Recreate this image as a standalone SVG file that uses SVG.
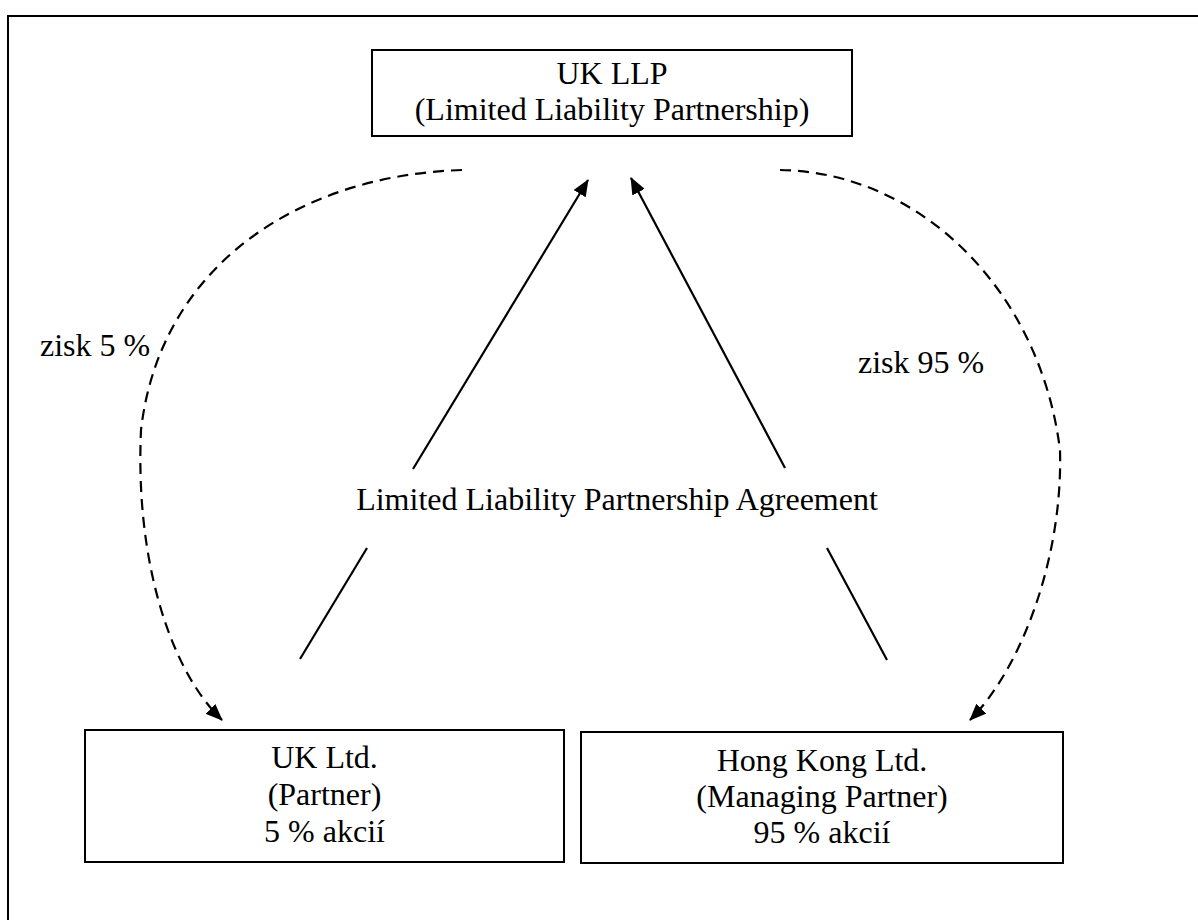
<svg xmlns="http://www.w3.org/2000/svg" width="1198" height="920" viewBox="0 0 1198 920">
  <style>
    .box { fill: #ffffff; stroke: #000000; stroke-width: 2; }
    .t { font-family: "Liberation Serif", "Times New Roman", serif; font-size: 32px; fill: #000000; }
    .c { text-anchor: middle; }
    .solid { fill: none; stroke: #000000; stroke-width: 2.2; }
    .dash { fill: none; stroke: #000000; stroke-width: 2.2; stroke-dasharray: 11 7; }
  </style>
  <defs>
    <marker id="arrow" viewBox="0 0 17 14" refX="16" refY="7" markerWidth="17" markerHeight="14" markerUnits="userSpaceOnUse" orient="auto">
      <path d="M0,0 L17,7 L0,14 z" fill="#000000"/>
    </marker>
  </defs>
  <rect width="1198" height="920" fill="#ffffff"/>
  <path id="frame" d="M8,920 V16 H1198" fill="none" stroke="#000000" stroke-width="2"/>

  <g id="connectors">
    <path class="solid" d="M413,469 L588,180" marker-end="url(#arrow)"/>
    <path class="solid" d="M785,468 L631,178" marker-end="url(#arrow)"/>
    <path class="solid" d="M367,548 L300,659"/>
    <path class="solid" d="M827,548 L887,660"/>
    <path class="dash" d="M462,170 C300,175 160,265 141,430 C135,560 170,670 222,720" marker-end="url(#arrow)"/>
    <path class="dash" d="M780,170 C920,172 1040,290 1060,450 C1063,560 1020,670 970,720" marker-end="url(#arrow)"/>
    <text class="t" x="40" y="356">zisk 5 %</text>
    <text class="t" x="858" y="373">zisk 95 %</text>
    <text class="t c" x="617" y="510">Limited Liability Partnership Agreement</text>
  </g>

  <g id="uk-llp">
    <rect class="box" x="372" y="50" width="480" height="86"/>
    <text class="t c" x="612" y="84">UK LLP</text>
    <text class="t c" x="612" y="120">(Limited Liability Partnership)</text>
  </g>

  <g id="uk-ltd">
    <rect class="box" x="85" y="730" width="479" height="132"/>
    <text class="t c" x="324.5" y="768">UK Ltd.</text>
    <text class="t c" x="324.5" y="805">(Partner)</text>
    <text class="t c" x="324.5" y="842">5 % akcií</text>
  </g>

  <g id="hk-ltd">
    <rect class="box" x="581" y="732" width="482" height="131"/>
    <text class="t c" x="822" y="771">Hong Kong Ltd.</text>
    <text class="t c" x="822" y="807">(Managing Partner)</text>
    <text class="t c" x="822" y="843">95 % akcií</text>
  </g>
</svg>
